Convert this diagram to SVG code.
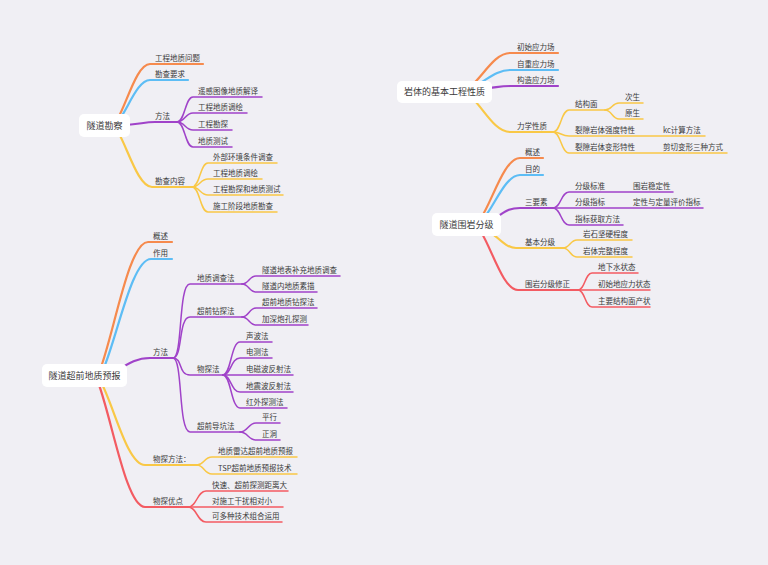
<svg xmlns="http://www.w3.org/2000/svg" width="768" height="565" viewBox="0 0 768 565">
<style>
.c path{fill:none;stroke-linecap:round;stroke-linejoin:round}
.m{stroke-width:2.2}
.s{stroke-width:1.5}
.o{stroke:#F68A4D}.b{stroke:#5DBDF5}.p{stroke:#A043C9}.y{stroke:#F9C846}.r{stroke:#F35B62}
text{font-family:"Noto Sans CJK SC","Noto Sans",sans-serif;fill:#3a3a3a}
.t{font-size:7.5px}
.R{font-size:9px;text-anchor:middle}
.box{fill:#ffffff}
</style>
<rect width="768" height="565" fill="#F0EFF4"/>
<g class="c" id="connectors">
<!-- map1 -->
<path class="m o" d="M117 120 C126.9 103.2,136.8 64,150 64 H203"/>
<path class="m b" d="M119 120 C128.3 108,137.6 80,150 80 H188"/>
<path class="m p" d="M120 125 C140 125,142 122,155 122 H177"/>
<path class="m y" d="M117 130 C127.5 147.1,138 187,152 187 H192"/>
<path class="s p" d="M177 122 C185 122,185 97,193 97 H262"/>
<path class="s p" d="M177 122 C185 122,185 113,193 113 H247"/>
<path class="s p" d="M177 122 C185 122,185 130,193 130 H232"/>
<path class="s p" d="M177 122 C185 122,185 147,193 147 H232"/>
<path class="s y" d="M192 187 C200 187,200 163,208 163 H277"/>
<path class="s y" d="M192 187 C200 187,200 179,208 179 H262"/>
<path class="s y" d="M192 187 C200 187,200 195,208 195 H283"/>
<path class="s y" d="M192 187 C200 187,200 212,208 212 H277"/>
<!-- map2 -->
<path class="m o" d="M472 85 C483.4 75.4,494.8 53,510 53 H558"/>
<path class="m b" d="M476 85 C486.2 80.5,496.4 70,510 70 H558"/>
<path class="m p" d="M485 88 C495 88,498 86,510 86 H558"/>
<path class="m y" d="M472 98 C483.4 108.2,494.8 132,510 132 H553"/>
<path class="s y" d="M553 132 C561 132,561 110,569 110 H605"/>
<path class="s y" d="M553 132 C561 132,561 136,569 136 H705"/>
<path class="s y" d="M553 132 C561 132,561 153,569 153 H727"/>
<path class="s y" d="M605 110 C612 110,612 103,619 103 H643"/>
<path class="s y" d="M605 110 C612 110,612 119,619 119 H643"/>
<!-- map3 -->
<path class="m o" d="M481 218 C492.7 200,504.4 158,520 158 H543"/>
<path class="m b" d="M484 218 C494.8 205.1,505.6 175,520 175 H543"/>
<path class="m p" d="M495 218 C505 212,508 208,520 208 H553"/>
<path class="m y" d="M490 232 C497.8 236.8,505.6 248,516 248 H563"/>
<path class="m r" d="M481 232 C492.1 249.4,503.2 290,518 290 H578"/>
<path class="s p" d="M553 208 C561 208,561 192,569 192 H673"/>
<path class="s p" d="M553 208 H703"/>
<path class="s p" d="M553 208 C561 208,561 225,569 225 H623"/>
<path class="s y" d="M563 248 C570 248,570 240,577 240 H632"/>
<path class="s y" d="M563 248 C570 248,570 257,577 257 H632"/>
<path class="s r" d="M578 290 C585 290,585 273,592 273 H638"/>
<path class="s r" d="M578 290 H650"/>
<path class="s r" d="M578 290 C585 290,585 307,592 307 H650"/>
<!-- map4 -->
<path class="m o" d="M100 370 C114.4 331.6,128.8 242,148 242 H172"/>
<path class="m b" d="M103 370 C117.4 336.7,131.8 259,151 259 H172"/>
<path class="m p" d="M115 372 C130 362,138 358,150 358 H173"/>
<path class="m y" d="M101 382 C114.2 406.9,127.4 465,145 465 H197"/>
<path class="m r" d="M98 382 C112.1 419.5,126.2 507,145 507 H188"/>
<path class="s p" d="M173 358 C183 358,178 284,190 284 H242"/>
<path class="s p" d="M173 358 C183 358,178 317,190 317 H242"/>
<path class="s p" d="M173 358 C183 358,178 375,190 375 H223"/>
<path class="s p" d="M173 358 C183 358,178 432,190 432 H240"/>
<path class="s p" d="M242 284 C249 284,249 276,256 276 H340"/>
<path class="s p" d="M242 284 C249 284,249 292,256 292 H317"/>
<path class="s p" d="M242 317 C249 317,249 308,256 308 H317"/>
<path class="s p" d="M242 317 C249 317,249 325,256 325 H308"/>
<path class="s p" d="M223 375 C231 375,231 342,240 342 H272"/>
<path class="s p" d="M223 375 C231 375,231 358,240 358 H272"/>
<path class="s p" d="M223 375 H293"/>
<path class="s p" d="M223 375 C231 375,231 392,240 392 H293"/>
<path class="s p" d="M223 375 C231 375,231 408,240 408 H287"/>
<path class="s p" d="M240 432 C248 432,248 423,256 423 H280"/>
<path class="s p" d="M240 432 C248 432,248 440,256 440 H280"/>
<path class="s y" d="M197 465 C204 465,204 457,212 457 H297"/>
<path class="s y" d="M197 465 C204 465,204 474,212 474 H297"/>
<path class="s r" d="M188 507 C197 507,197 491,206 491 H288"/>
<path class="s r" d="M188 507 H283"/>
<path class="s r" d="M188 507 C197 507,197 522,206 522 H282"/>
</g>
<!-- roots -->
<g id="root1"><rect class="box" x="79" y="114" width="51" height="23" rx="5"/><text class="R" x="104.5" y="128.8">隧道勘察</text></g>
<g id="root2"><rect class="box" x="397" y="81" width="95" height="22" rx="5"/><text class="R" x="444.5" y="95.3">岩体的基本工程性质</text></g>
<g id="root3"><rect class="box" x="432" y="213" width="69" height="23" rx="5"/><text class="R" x="466.5" y="227.8">隧道围岩分级</text></g>
<g id="root4"><rect class="box" x="42" y="364" width="85" height="23" rx="5"/><text class="R" x="84.5" y="378.8">隧道超前地质预报</text></g>
<!-- map1 nodes -->
<g id="n1a"><text class="t" x="155" y="60.5">工程地质问题</text></g>
<g id="n1b"><text class="t" x="155" y="76.5">勘查要求</text></g>
<g id="n1c"><text class="t" x="155" y="118.5">方法</text></g>
<g id="n1c1"><text class="t" x="198" y="93.5">遥感图像地质解译</text></g>
<g id="n1c2"><text class="t" x="198" y="109.5">工程地质调绘</text></g>
<g id="n1c3"><text class="t" x="198" y="126.5">工程勘探</text></g>
<g id="n1c4"><text class="t" x="198" y="143.5">地质测试</text></g>
<g id="n1d"><text class="t" x="155" y="183.5">勘查内容</text></g>
<g id="n1d1"><text class="t" x="213" y="159.5">外部环境条件调查</text></g>
<g id="n1d2"><text class="t" x="213" y="175.5">工程地质调绘</text></g>
<g id="n1d3"><text class="t" x="213" y="191.5">工程勘探和地质测试</text></g>
<g id="n1d4"><text class="t" x="213" y="208.5">施工阶段地质勘查</text></g>
<!-- map2 nodes -->
<g id="n2a"><text class="t" x="517" y="49.5">初始应力场</text></g>
<g id="n2b"><text class="t" x="517" y="66.5">自重应力场</text></g>
<g id="n2c"><text class="t" x="517" y="82.5">构造应力场</text></g>
<g id="n2d"><text class="t" x="517" y="128.5">力学性质</text></g>
<g id="n2d1"><text class="t" x="575" y="106.5">结构面</text></g>
<g id="n2d1a"><text class="t" x="625" y="99.5">次生</text></g>
<g id="n2d1b"><text class="t" x="625" y="115.5">原生</text></g>
<g id="n2d2"><text class="t" x="575" y="132.5">裂隙岩体强度特性</text></g>
<g id="n2d2a"><text class="t" x="663" y="132.5">kc计算方法</text></g>
<g id="n2d3"><text class="t" x="575" y="149.5">裂隙岩体变形特性</text></g>
<g id="n2d3a"><text class="t" x="663" y="149.5">剪切变形三种方式</text></g>
<!-- map3 nodes -->
<g id="n3a"><text class="t" x="525" y="154.5">概述</text></g>
<g id="n3b"><text class="t" x="525" y="171.5">目的</text></g>
<g id="n3c"><text class="t" x="525" y="204.5">三要素</text></g>
<g id="n3c1"><text class="t" x="575" y="188.5">分级标准</text></g>
<g id="n3c1a"><text class="t" x="633" y="188.5">围岩稳定性</text></g>
<g id="n3c2"><text class="t" x="575" y="204.5">分级指标</text></g>
<g id="n3c2a"><text class="t" x="633" y="204.5">定性与定量评价指标</text></g>
<g id="n3c3"><text class="t" x="575" y="221.5">指标获取方法</text></g>
<g id="n3d"><text class="t" x="525" y="244.5">基本分级</text></g>
<g id="n3d1"><text class="t" x="583" y="236.5">岩石坚硬程度</text></g>
<g id="n3d2"><text class="t" x="583" y="253.5">岩体完整程度</text></g>
<g id="n3e"><text class="t" x="525" y="286.5">围岩分级修正</text></g>
<g id="n3e1"><text class="t" x="598" y="269.5">地下水状态</text></g>
<g id="n3e2"><text class="t" x="598" y="286.5">初始地应力状态</text></g>
<g id="n3e3"><text class="t" x="598" y="303.5">主要结构面产状</text></g>
<!-- map4 nodes -->
<g id="n4a"><text class="t" x="153" y="238.5">概述</text></g>
<g id="n4b"><text class="t" x="153" y="255.5">作用</text></g>
<g id="n4c"><text class="t" x="153" y="354.5">方法</text></g>
<g id="n4c1"><text class="t" x="197" y="280.5">地质调查法</text></g>
<g id="n4c1a"><text class="t" x="262" y="272.5">隧道地表补充地质调查</text></g>
<g id="n4c1b"><text class="t" x="262" y="288.5">隧道内地质素描</text></g>
<g id="n4c2"><text class="t" x="197" y="313.5">超前钻探法</text></g>
<g id="n4c2a"><text class="t" x="262" y="304.5">超前地质钻探法</text></g>
<g id="n4c2b"><text class="t" x="262" y="321.5">加深炮孔探测</text></g>
<g id="n4c3"><text class="t" x="197" y="371.5">物探法</text></g>
<g id="n4c3a"><text class="t" x="246" y="338.5">声波法</text></g>
<g id="n4c3b"><text class="t" x="246" y="354.5">电测法</text></g>
<g id="n4c3c"><text class="t" x="246" y="371.5">电磁波反射法</text></g>
<g id="n4c3d"><text class="t" x="246" y="388.5">地震波反射法</text></g>
<g id="n4c3e"><text class="t" x="246" y="404.5">红外探测法</text></g>
<g id="n4c4"><text class="t" x="197" y="428.5">超前导坑法</text></g>
<g id="n4c4a"><text class="t" x="262" y="419.5">平行</text></g>
<g id="n4c4b"><text class="t" x="262" y="436.5">正洞</text></g>
<g id="n4d"><text class="t" x="153" y="461.5">物探方法：</text></g>
<g id="n4d1"><text class="t" x="218" y="453.5">地质雷达超前地质预报</text></g>
<g id="n4d2"><text class="t" x="218" y="470.5">TSP超前地质预报技术</text></g>
<g id="n4e"><text class="t" x="153" y="503.5">物探优点</text></g>
<g id="n4e1"><text class="t" x="212" y="487.5">快速、超前探测距离大</text></g>
<g id="n4e2"><text class="t" x="212" y="503.5">对施工干扰相对小</text></g>
<g id="n4e3"><text class="t" x="212" y="518.5">可多种技术组合运用</text></g>
</svg>
